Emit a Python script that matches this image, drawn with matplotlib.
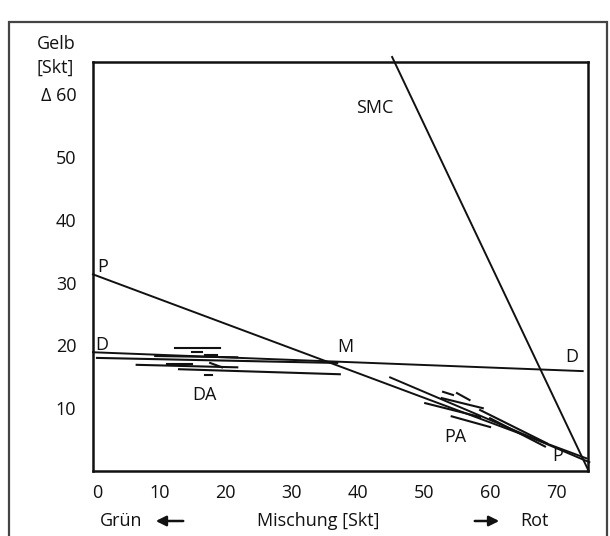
import matplotlib
matplotlib.use("Agg")
import matplotlib.pyplot as plt
from matplotlib.patches import Rectangle
from matplotlib.transforms import ScaledTranslation

plt.rcParams['font.family'] = ['Open Sans', 'DejaVu Sans']

# Axis ticks
x_ticks = [0, 10, 20, 30, 40, 50, 60, 70]
y_ticks = [10, 20, 30, 40, 50, 60]
y_tick_labels = ["10", "20", "30", "40", "50", "Δ 60"]

# Main lines (x0, y0, x1, y1)
line_P = [0.0, 31.3, 74.6, 2.0]
line_D = [0.0, 18.9, 74.0, 15.9]
line_SMC = [45.2, 65.9, 74.9, 0.0]
line_PA_upper = [44.9, 14.9, 75.0, 1.4]

# DA cluster segments
da_x0 = [0.6, 6.6, 9.4, 12.4, 13.0, 11.2, 15.0, 16.9, 16.9, 17.7]
da_y0 = [18.0, 16.9, 18.3, 19.6, 16.2, 17.0, 18.9, 18.4, 15.3, 17.2]
da_x1 = [36.9, 21.8, 21.8, 19.2, 37.3, 15.0, 16.5, 18.7, 18.0, 19.5]
da_y1 = [17.2, 16.5, 18.1, 19.6, 15.4, 17.0, 18.9, 18.4, 15.3, 16.5]

# PA cluster segments
pa_x0 = [52.9, 55.0, 52.7, 50.2, 54.2, 58.5, 60.0]
pa_y0 = [12.6, 12.4, 11.6, 10.8, 8.7, 9.7, 8.4]
pa_x1 = [54.4, 56.9, 58.9, 58.5, 60.0, 68.6, 68.3]
pa_y1 = [12.1, 11.3, 10.0, 8.6, 7.0, 4.4, 3.9]

# Labels (text, x, y, ha)
labels = [
    ("SMC", 42.6, 57.8, "center"),
    ("P", 0.6, 32.4, "left"),
    ("D", 0.4, 20.0, "left"),
    ("M", 38.1, 19.7, "center"),
    ("D", 72.4, 18.1, "center"),
    ("DA", 16.9, 12.1, "center"),
    ("PA", 54.7, 5.4, "center"),
    ("P", 70.2, 2.4, "center"),
]

W, H = 610, 536
fig = plt.figure(figsize=(W / 100, H / 100), dpi=100)
fig.patch.set_facecolor("white")

# outer frame
fig.patches.append(Rectangle((9 / W, -0.05), (607 - 9) / W, (536 - 22) / H + 0.05,
                             transform=fig.transFigure, fill=False,
                             edgecolor="#444444", linewidth=1.6))

ax = fig.add_axes([93 / W, (536 - 471) / H, (588 - 93) / W, (471 - 62) / H])
ax.set_xlim(0, 74.8)
ax.set_ylim(0, 65.1)
for s in ax.spines.values():
    s.set_linewidth(1.8)
    s.set_color("#111111")

lc = "#111111"
lw = 1.4
for seg in [line_P, line_D, line_PA_upper, line_SMC]:
    ax.plot([seg[0], seg[2]], [seg[1], seg[3]], color=lc, lw=lw, clip_on=False)

for a, b, c, d in zip(da_x0, da_y0, da_x1, da_y1):
    ax.plot([a, c], [b, d], color=lc, lw=1.5)
for a, b, c, d in zip(pa_x0, pa_y0, pa_x1, pa_y1):
    ax.plot([a, c], [b, d], color=lc, lw=1.5)

for t, x, y, ha in labels:
    ax.text(x, y, t, fontsize=13, ha=ha, va="center", color="#111111")

ax.set_xticks(x_ticks)
ax.set_xticklabels([str(v) for v in x_ticks], fontsize=13, color="#111111")
ax.set_yticks(y_ticks)
ax.set_yticklabels(y_tick_labels, fontsize=13, color="#111111")
ax.tick_params(length=0, pad=9)
ax.tick_params(axis="y", pad=12)
# nudge "0" label slightly right as in the reference
lbl0 = ax.get_xticklabels()[0]
lbl0.set_transform(lbl0.get_transform() + ScaledTranslation(4 / 100, 0, fig.dpi_scale_trans))

# y-axis title
fig.text(37 / W, 1 - 44 / H, "Gelb", fontsize=13, ha="left", va="center", color="#111111")
fig.text(37 / W, 1 - 68 / H, "[Skt]", fontsize=13, ha="left", va="center", color="#111111")

# x-axis captions
yb = 1 - 521 / H
fig.text(100 / W, yb, "Grün", fontsize=13, ha="left", va="center", color="#111111")
fig.text(318 / W, yb, "Mischung [Skt]", fontsize=13, ha="center", va="center", color="#111111")
fig.text(520 / W, yb, "Rot", fontsize=13, ha="left", va="center", color="#111111")
arrow_kw = dict(arrowstyle="-|>,head_length=0.6,head_width=0.3", color="#111111", lw=1.8)
ax.annotate("", xy=(153 / W, yb), xytext=(186 / W, yb), xycoords="figure fraction",
            textcoords="figure fraction", arrowprops=arrow_kw)
ax.annotate("", xy=(502 / W, yb), xytext=(472 / W, yb), xycoords="figure fraction",
            textcoords="figure fraction", arrowprops=arrow_kw)

fig.savefig("out.png", dpi=100, facecolor="white")
